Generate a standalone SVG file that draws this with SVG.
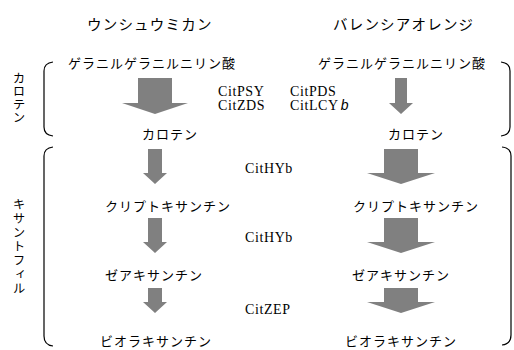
<svg xmlns="http://www.w3.org/2000/svg" width="514" height="350" viewBox="0 0 514 350">
<style>
.jp{font-family:"Noto Sans CJK JP","Noto Sans",sans-serif;fill:#000;}
.t{font-size:14.5px;letter-spacing:1.2px;}
.n{font-size:13px;letter-spacing:1px;}
.v{font-size:12.5px;writing-mode:vertical-rl;}
.g{font-family:"Liberation Serif",serif;font-size:14px;letter-spacing:0.6px;fill:#000;}
.ar{fill:#808080;}
.br{fill:none;stroke:#000;stroke-width:1.2;}
</style>
<rect width="514" height="350" fill="#fff"/>
<g id="titles">
<text class="jp t" x="87" y="30">ウンシュウミカン</text>
<text class="jp t" x="333" y="30">バレンシアオレンジ</text>
</g>
<g id="brackets">
<path class="br" d="M53,62 Q44,63 44,71 L44,127 Q44,135 53,136"/>
<path class="br" d="M501,62 Q510,63 510,71 L510,127 Q510,135 501,136"/>
<path class="br" d="M53,147 Q44,148 44,156 L44,336 Q44,345 53,346"/>
<path class="br" d="M502,147 Q511,148 511,156 L511,335 Q511,344 502,345"/>
</g>
<g id="group-labels">
<text class="jp v" x="19" y="72" letter-spacing="0.6">カロテン</text>
<text class="jp v" x="19" y="198" letter-spacing="1.5">キサントフィル</text>
</g>
<g id="node-ggpp-satsuma"><text class="jp n" x="68" y="68">ゲラニルゲラニルニリン酸</text></g>
<g id="node-ggpp-valencia"><text class="jp n" x="318" y="68">ゲラニルゲラニルニリン酸</text></g>
<g id="node-carotene-satsuma"><text class="jp n" x="142" y="139">カロテン</text></g>
<g id="node-carotene-valencia"><text class="jp n" x="388" y="139">カロテン</text></g>
<g id="node-crypto-satsuma"><text class="jp n" x="105" y="211">クリプトキサンチン</text></g>
<g id="node-crypto-valencia"><text class="jp n" x="353" y="211">クリプトキサンチン</text></g>
<g id="node-zea-satsuma"><text class="jp n" x="105" y="280">ゼアキサンチン</text></g>
<g id="node-zea-valencia"><text class="jp n" x="352" y="280">ゼアキサンチン</text></g>
<g id="node-viola-satsuma"><text class="jp n" x="100" y="346">ビオラキサンチン</text></g>
<g id="node-viola-valencia"><text class="jp n" x="345" y="346">ビオラキサンチン</text></g>
<g id="connectors">
<polygon class="ar" points="138,78 172,78 172,103 188,103 155,114 122,103 138,103"/>
<polygon class="ar" points="148,149 162,149 162,173 167,173 155,184 143,173 148,173"/>
<polygon class="ar" points="148,218 162,218 162,242 167,242 155,253 143,242 148,242"/>
<polygon class="ar" points="148,288 162,288 162,302 167,302 155,313 143,302 148,302"/>
<polygon class="ar" points="395,78 407,78 407,103 413,103 401,114 389,103 395,103"/>
<polygon class="ar" points="384,149 418,149 418,173 435,173 401,184 367,173 384,173"/>
<polygon class="ar" points="384,218 418,218 418,242 435,242 401,253 367,242 384,242"/>
<polygon class="ar" points="384,288 418,288 418,302 435,302 401,313 367,302 384,302"/>
</g>
<g id="gene-labels">
<text class="g" x="218" y="96">CitPSY</text>
<text class="g" x="290" y="96">CitPDS</text>
<text class="g" x="218" y="110">CitZDS</text>
<text class="g" x="290" y="110">CitLCY<tspan font-family="Liberation Sans,sans-serif" font-style="italic" dx="2">b</tspan></text>
<text class="g" x="245" y="173">CitHYb</text>
<text class="g" x="245" y="242">CitHYb</text>
<text class="g" x="245" y="314">CitZEP</text>
</g>
</svg>
